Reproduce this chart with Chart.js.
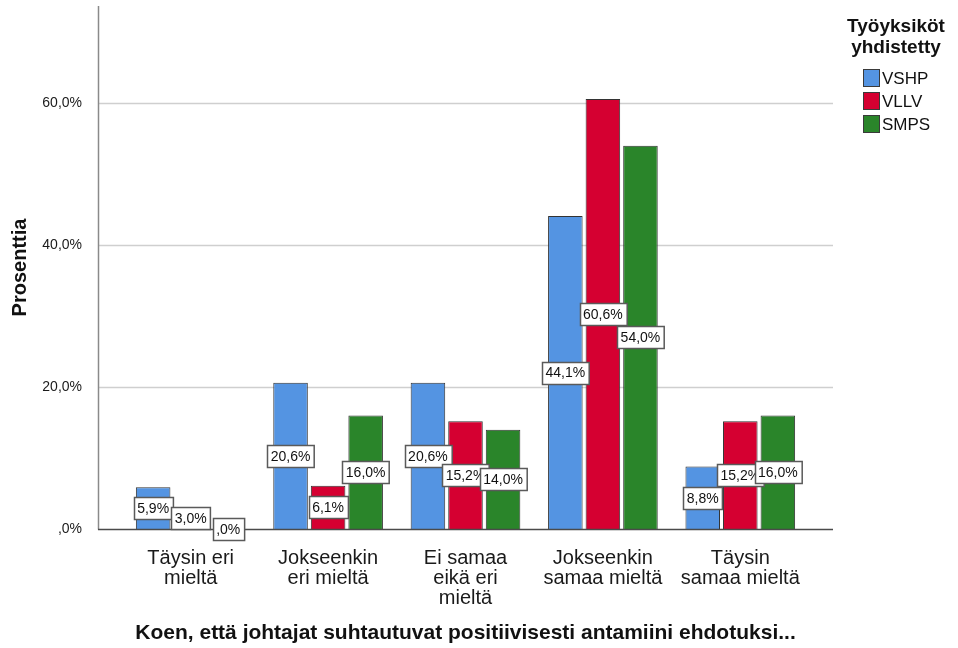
<!DOCTYPE html>
<html>
<head>
<meta charset="utf-8">
<script src="https://cdn.jsdelivr.net/npm/chart.js@4.4.1/dist/chart.umd.min.js"></script>
<style>
  html, body { margin: 0; padding: 0; background: #ffffff; }
  #wrap { width: 958px; height: 648px; position: relative; }
  canvas { display: block; }
</style>
</head>
<body>
<div id="wrap"><canvas id="chart" width="958" height="648"></canvas></div>
<script>
// Answer categories (multi-line tick labels)
const categories = [
  ["Täysin eri", "mieltä"],
  ["Jokseenkin", "eri mieltä"],
  ["Ei samaa", "eikä eri", "mieltä"],
  ["Jokseenkin", "samaa mieltä"],
  ["Täysin", "samaa mieltä"]
];

// Series (work units), percentages per category
const seriesNames = ["VSHP", "VLLV", "SMPS"];
const vshp = [5.9, 20.6, 20.6, 44.1, 8.8];
const vllv = [3.0, 6.1, 15.2, 60.6, 15.2];
const smps = [0.0, 16.0, 14.0, 54.0, 16.0];

// Y axis ticks
const yTickValues = [0, 20, 40, 60];
const yTickLabels = [",0%", "20,0%", "40,0%", "60,0%"];

const legendTitle = ["Työyksiköt", "yhdistetty"];
const xTitle = "Koen, että johtajat suhtautuvat positiivisesti antamiini ehdotuksi...";
const yTitle = "Prosenttia";

const seriesColors = ["#5494E2", "#D50031", "#2A852A"];
const FONT = "'Liberation Sans', Arial, Helvetica, sans-serif";
const AXIS_EXT = 24; // axis lines reach a little beyond the category band

Chart.defaults.font.family = FONT;
Chart.defaults.color = "#1a1a1a";

// Finnish SPSS-style percent: comma decimal, no leading zero
function fmtPct(v) {
  let s = v.toFixed(1).replace(".", ",");
  if (s.startsWith("0,")) s = s.slice(1);
  return s + "%";
}

// Gridlines and axis lines spanning the full frame
const framePlugin = {
  id: "frame",
  beforeDatasetsDraw(chart) {
    const { ctx, chartArea: a, scales: { y } } = chart;
    const x0 = a.left - AXIS_EXT, x1 = a.right + AXIS_EXT;
    ctx.save();
    ctx.strokeStyle = "#cfcfcf";
    ctx.lineWidth = 1.5;
    yTickValues.forEach(v => {
      if (v === 0) return;
      const py = Math.round(y.getPixelForValue(v)) + 0.5;
      ctx.beginPath(); ctx.moveTo(x0, py); ctx.lineTo(x1, py); ctx.stroke();
    });
    ctx.restore();
  },
  afterDatasetsDraw(chart) {
    const { ctx, chartArea: a, scales: { y } } = chart;
    const x0 = a.left - AXIS_EXT, x1 = a.right + AXIS_EXT;
    const yb = Math.round(y.getPixelForValue(0)) + 0.5;
    ctx.save();
    ctx.lineWidth = 1.5;
    ctx.strokeStyle = "#8a8a8a";
    ctx.beginPath(); ctx.moveTo(x0 + 0.5, a.top); ctx.lineTo(x0 + 0.5, yb); ctx.stroke();
    ctx.strokeStyle = "#4a4a4a";
    ctx.beginPath(); ctx.moveTo(x0, yb); ctx.lineTo(x1, yb); ctx.stroke();
    ctx.restore();
  }
};

// Boxed value labels in the middle of each bar
const valueLabelPlugin = {
  id: "valueLabels",
  afterDatasetsDraw(chart) {
    const { ctx } = chart;
    ctx.save();
    ctx.font = "14px " + FONT;
    ctx.textAlign = "center";
    ctx.textBaseline = "middle";
    chart.data.datasets.forEach((ds, di) => {
      const meta = chart.getDatasetMeta(di);
      meta.data.forEach((bar, i) => {
        const txt = fmtPct(ds.data[i]);
        const cy = (bar.y + bar.base) / 2;
        const w = ctx.measureText(txt).width + 7;
        const h = 22;
        const bx = Math.round(bar.x - w / 2) + 0.5;
        const by = Math.round(cy - h / 2) + 0.5;
        ctx.fillStyle = "#ffffff";
        ctx.fillRect(bx, by, w, h);
        ctx.strokeStyle = "#5a5a5a";
        ctx.lineWidth = 1.5;
        ctx.strokeRect(bx, by, w, h);
        ctx.fillStyle = "#111111";
        ctx.fillText(txt, bar.x, cy + 1);
      });
    });
    ctx.restore();
  }
};

// Legend on the right with a two-line bold title
const legendPlugin = {
  id: "sideLegend",
  afterDraw(chart) {
    const { ctx } = chart;
    ctx.save();
    ctx.fillStyle = "#111111";
    ctx.textAlign = "center";
    ctx.textBaseline = "middle";
    ctx.font = "bold 19px " + FONT;
    legendTitle.forEach((t, k) => ctx.fillText(t, 896, 27 + k * 21));
    ctx.font = "17px " + FONT;
    ctx.textAlign = "left";
    chart.data.datasets.forEach((ds, k) => {
      const cy = 78 + k * 23;
      ctx.fillStyle = ds.backgroundColor;
      ctx.fillRect(863.5, cy - 8.5, 16, 17);
      ctx.strokeStyle = "#3a3a3a";
      ctx.lineWidth = 1;
      ctx.strokeRect(863.5, cy - 8.5, 16, 17);
      ctx.fillStyle = "#111111";
      ctx.fillText(ds.label, 882, cy + 1);
    });
    ctx.restore();
  }
};

const seriesData = [vshp, vllv, smps];

new Chart(document.getElementById("chart"), {
  type: "bar",
  data: {
    labels: categories,
    datasets: seriesNames.map((name, k) => ({
      label: name,
      data: seriesData[k],
      backgroundColor: seriesColors[k],
      borderColor: "#333333",
      borderWidth: 1,
      categoryPercentage: 0.82,
      barPercentage: 0.92
    }))
  },
  options: {
    responsive: false,
    animation: false,
    devicePixelRatio: 1,
    layout: { padding: { top: 6, right: 149, left: 0, bottom: 0 } },
    plugins: {
      legend: { display: false },
      tooltip: { enabled: false }
    },
    scales: {
      x: {
        grid: { display: false },
        border: { display: false },
        ticks: {
          font: { size: 20, lineHeight: 1.0 },
          color: "#1a1a1a",
          padding: 11,
          maxRotation: 0,
          autoSkip: false
        },
        title: {
          display: true,
          text: xTitle,
          font: { size: 21, weight: "bold", lineHeight: 1.2 },
          color: "#111111",
          padding: { top: 0, bottom: 2 }
        },
        afterFit(scale) {
          scale.height = 119;
          scale.paddingLeft = 0;
          scale.paddingRight = 0;
        }
      },
      y: {
        min: 0,
        max: 73.7,
        grid: { display: false },
        border: { display: false },
        afterBuildTicks(scale) {
          scale.ticks = yTickValues.map(v => ({ value: v }));
        },
        ticks: {
          font: { size: 14 },
          color: "#1a1a1a",
          padding: 32,
          callback(value) {
            const i = yTickValues.indexOf(value);
            return i >= 0 ? yTickLabels[i] : "";
          }
        },
        title: {
          display: true,
          text: yTitle,
          font: { size: 20, weight: "bold", lineHeight: 1.2 },
          color: "#111111",
          padding: { top: 8, bottom: 0 }
        },
        afterFit(scale) {
          scale.width = 122;
          scale.paddingTop = 0;
          scale.paddingBottom = 0;
        }
      }
    }
  },
  plugins: [framePlugin, valueLabelPlugin, legendPlugin]
});
</script>
</body>
</html>
